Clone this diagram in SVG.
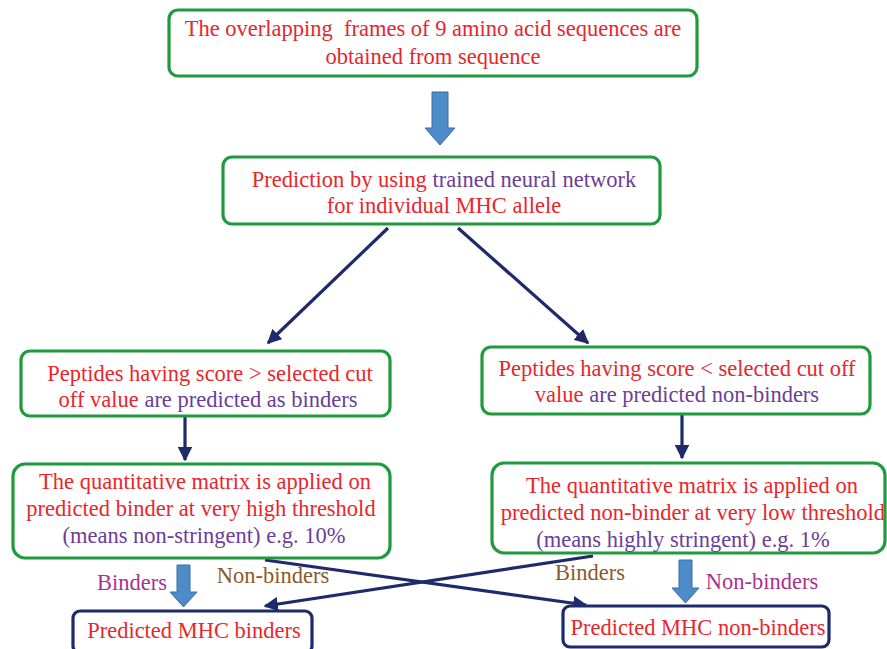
<svg xmlns="http://www.w3.org/2000/svg" width="887" height="649" viewBox="0 0 887 649" font-family="Liberation Serif, Times New Roman, serif" font-size="22.5">
<style>
.g{fill:#fff;stroke:#1f9a3f;stroke-width:3.2}
.n{fill:#fff;stroke:#1f2a6b;stroke-width:3.2}
text{text-anchor:middle}
.r{fill:#e8262c}
.p{fill:#6b3d9a}
.m{fill:#a8328f}
.b{fill:#8a5a2b}
.c{stroke:#1f2a6b;stroke-width:3.2;fill:none}
.ba{fill:#4d8bc9;stroke:#3a6fa3;stroke-width:1}
</style>
<defs>
<marker id="ah" viewBox="0 0 10 10" refX="9" refY="5" markerWidth="4.5" markerHeight="4.5" orient="auto" markerUnits="strokeWidth">
<path d="M0,0 L10,5 L0,10 z" fill="#1f2a6b"/>
</marker>
</defs>
<rect width="887" height="649" fill="#fff"/>
<g id="connectors">
<path class="ba" d="M432,92 H448 V128 H455 L440,145 L425,128 H432 Z"/>
<line class="c" x1="388" y1="228" x2="268" y2="343" marker-end="url(#ah)"/>
<line class="c" x1="458" y1="228" x2="588" y2="343" marker-end="url(#ah)"/>
<line class="c" x1="185" y1="417" x2="185" y2="460" marker-end="url(#ah)"/>
<line class="c" x1="682" y1="415" x2="682" y2="458" marker-end="url(#ah)"/>
<path class="ba" d="M177,565 H190 V592 H197 L183.5,607 L170,592 H177 Z"/>
<path class="ba" d="M679,560 H692 V588 H699 L685.5,603 L672,588 H679 Z"/>
<line class="c" x1="265" y1="560" x2="586" y2="605" marker-end="url(#ah)"/>
<line class="c" x1="593" y1="556" x2="265" y2="606" marker-end="url(#ah)"/>
</g>
<g id="n1">
<rect class="g" x="169" y="10" width="528" height="66" rx="9"/>
<text class="r" x="433" y="36" xml:space="preserve">The overlapping  frames of 9 amino acid sequences are</text>
<text class="r" x="433" y="64">obtained from sequence</text>
</g>
<g id="n2">
<rect class="g" x="223" y="157" width="437" height="67" rx="9"/>
<text x="444" y="187"><tspan class="r">Prediction by using </tspan><tspan class="p">trained neural network</tspan></text>
<text class="r" x="444" y="213">for individual MHC allele</text>
</g>
<g id="n3">
<rect class="g" x="21" y="351" width="369" height="65" rx="9"/>
<text class="r" x="210" y="381">Peptides having score &gt; selected cut</text>
<text x="208" y="407"><tspan class="r">off value </tspan><tspan class="p">are predicted as binders</tspan></text>
</g>
<g id="n4">
<rect class="g" x="482" y="347" width="388" height="67" rx="9"/>
<text class="r" x="677" y="376">Peptides having score &lt; selected cut off</text>
<text x="677" y="402"><tspan class="r">value </tspan><tspan class="p">are predicted non-binders</tspan></text>
</g>
<g id="n5">
<rect class="g" x="13" y="464" width="377" height="94" rx="12"/>
<text class="r" x="205" y="489">The quantitative matrix is applied on</text>
<text class="r" x="201" y="516">predicted binder at very high threshold</text>
<text class="p" x="204" y="543">(means non-stringent) e.g. 10%</text>
</g>
<g id="n6">
<rect class="g" x="492" y="463" width="393" height="90" rx="12"/>
<text class="r" x="692" y="493">The quantitative matrix is applied on</text>
<text class="r" x="693" y="520">predicted non-binder at very low threshold</text>
<text class="p" x="683" y="547">(means highly stringent) e.g. 1%</text>
</g>
<g id="n7">
<rect class="n" x="73" y="611" width="239" height="42" rx="7"/>
<text class="r" x="194" y="638">Predicted MHC binders</text>
</g>
<g id="n8">
<rect class="n" x="563" y="606" width="266" height="41" rx="7"/>
<text class="r" x="698" y="635">Predicted MHC non-binders</text>
</g>
<g id="labels">
<text class="m" x="132" y="590">Binders</text>
<text class="b" x="273" y="583">Non-binders</text>
<text class="b" x="590" y="580">Binders</text>
<text class="m" x="762" y="589">Non-binders</text>
</g>
</svg>
